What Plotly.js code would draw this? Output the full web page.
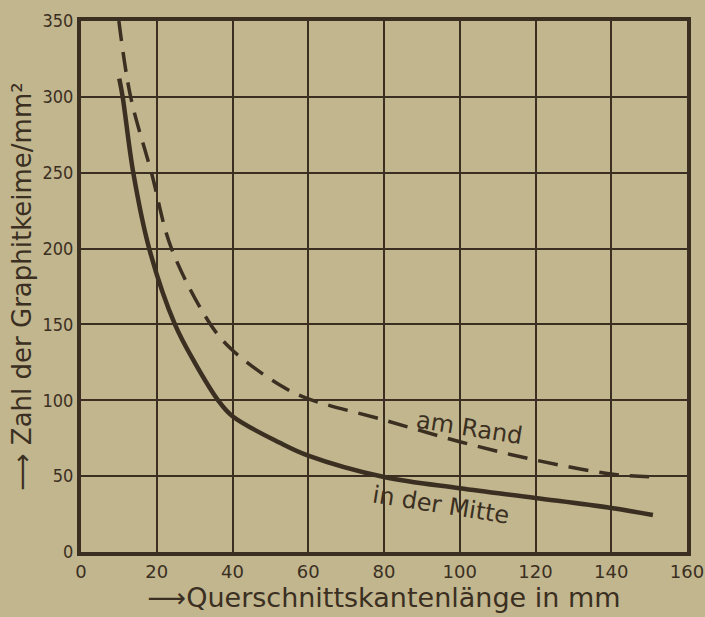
<!DOCTYPE html>
<html>
<head>
<meta charset="utf-8">
<script src="https://cdn.plot.ly/plotly-3.0.1.min.js"></script>
<style>html,body{margin:0;padding:0;background:#c1b68e;}</style>
</head>
<body>
<div id="chart" style="width:705px;height:617px;"></div>
<script>
// Solid curve: "in der Mitte"
const mitteX = [10.1, 11, 13.8, 18, 24.8, 30, 36.2, 40, 52.5, 60, 80, 100, 120, 140, 151];
const mitteY = [312, 300, 250, 200, 150, 125, 100, 89.5, 72, 63.5, 49.4, 42, 35.6, 29, 24.4];
// Dashed curve: "am Rand"
const randX = [10, 13.1, 18.6, 23.9, 34.2, 40, 52.5, 60, 80, 100, 120, 140, 150];
const randY = [350, 300, 250, 200, 150, 133, 110, 101, 87, 72.7, 60.6, 51.4, 49.6];

const xTicks = [0, 20, 40, 60, 80, 100, 120, 140, 160];
const yTicks = [0, 50, 100, 150, 200, 250, 300, 350];

const ink = '#3b2f22';
const paper = '#c1b68e';

const traces = [
  {x: mitteX, y: mitteY, mode: 'lines', name: 'in der Mitte',
   line: {color: ink, width: 4.5, shape: 'spline', smoothing: 1}},
  {x: randX, y: randY, mode: 'lines', name: 'am Rand',
   line: {color: ink, width: 3.5, shape: 'spline', smoothing: 1, dash: '20px,11px'}}
];

const layout = {
  width: 705, height: 617,
  margin: {l: 81, r: 18, t: 21, b: 65},
  paper_bgcolor: paper, plot_bgcolor: paper,
  showlegend: false,
  font: {family: 'DejaVu Sans, sans-serif', color: ink},
  xaxis: {
    range: [0, 160], tickvals: xTicks, ticktext: xTicks.map(String),
    showgrid: true, gridcolor: ink, gridwidth: 2,
    showline: true, linecolor: ink, linewidth: 4, mirror: true,
    zeroline: false, ticks: '', ticklabelstandoff: 0,
    tickfont: {size: 18, color: ink, family: 'DejaVu Sans, sans-serif'},
    title: {text: '⟶Querschnittskantenlänge in mm', standoff: 2,
            font: {size: 27, color: ink, family: 'DejaVu Sans, sans-serif'}}
  },
  yaxis: {
    range: [0, 350], tickvals: yTicks, ticktext: yTicks.map(String),
    showgrid: true, gridcolor: ink, gridwidth: 2,
    showline: true, linecolor: ink, linewidth: 4, mirror: true,
    zeroline: false, ticks: '', ticklabelstandoff: 0,
    tickfont: {size: 18, color: ink, family: 'DejaVu Sans Condensed, DejaVu Sans, sans-serif'},
    title: {text: '⟶ Zahl der Graphitkeime/mm²', standoff: 4,
            font: {size: 26, color: ink, family: 'DejaVu Sans, sans-serif'}}
  },
  annotations: [
    {x: 102.6, y: 82, xref: 'x', yref: 'y', text: 'am Rand', showarrow: false,
     textangle: 9, font: {size: 24, color: ink, family: 'DejaVu Sans, sans-serif'}},
    {x: 95, y: 31, xref: 'x', yref: 'y', text: 'in der Mitte', showarrow: false,
     textangle: 9, font: {size: 24, color: ink, family: 'DejaVu Sans, sans-serif'}}
  ]
};

Plotly.newPlot('chart', traces, layout, {displayModeBar: false, staticPlot: true});
</script>
</body>
</html>
